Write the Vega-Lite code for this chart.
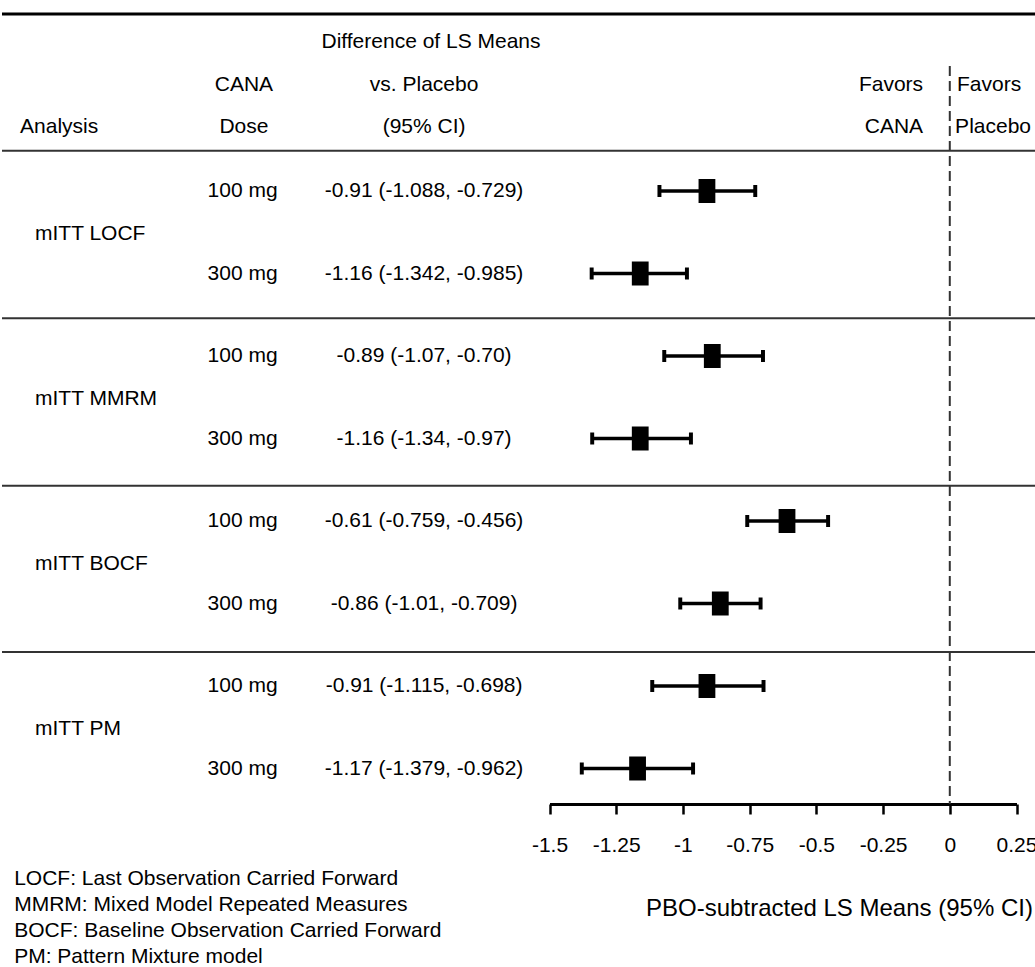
{
  "$schema": "https://vega.github.io/schema/vega-lite/v6.json",
  "width": 1035,
  "height": 804,
  "padding": 0,
  "autosize": {"type": "pad"},
  "background": "white",
  "config": {
    "view": {"stroke": null},
    "font": "Liberation Sans",
    "text": {"font": "Liberation Sans", "fontSize": 21, "color": "black", "baseline": "middle"}
  },
  "data": {
    "values": [
      {"analysis": "mITT LOCF", "dose": "100 mg", "est": -0.91, "lo": -1.088, "hi": -0.729, "ci": "-0.91 (-1.088, -0.729)", "row": 0},
      {"analysis": "mITT LOCF", "dose": "300 mg", "est": -1.16, "lo": -1.342, "hi": -0.985, "ci": "-1.16 (-1.342, -0.985)", "row": 1},
      {"analysis": "mITT MMRM", "dose": "100 mg", "est": -0.89, "lo": -1.07, "hi": -0.70, "ci": "-0.89 (-1.07, -0.70)", "row": 2},
      {"analysis": "mITT MMRM", "dose": "300 mg", "est": -1.16, "lo": -1.34, "hi": -0.97, "ci": "-1.16 (-1.34, -0.97)", "row": 3},
      {"analysis": "mITT BOCF", "dose": "100 mg", "est": -0.61, "lo": -0.759, "hi": -0.456, "ci": "-0.61 (-0.759, -0.456)", "row": 4},
      {"analysis": "mITT BOCF", "dose": "300 mg", "est": -0.86, "lo": -1.01, "hi": -0.709, "ci": "-0.86 (-1.01, -0.709)", "row": 5},
      {"analysis": "mITT PM", "dose": "100 mg", "est": -0.91, "lo": -1.115, "hi": -0.698, "ci": "-0.91 (-1.115, -0.698)", "row": 6},
      {"analysis": "mITT PM", "dose": "300 mg", "est": -1.17, "lo": -1.379, "hi": -0.962, "ci": "-1.17 (-1.379, -0.962)", "row": 7}
    ]
  },
  "layer": [
    {
      "mark": {"type": "rule", "color": "black", "strokeWidth": 3.5},
      "encoding": {
        "x": {"field": "lo", "type": "quantitative",
          "scale": {"domain": [-1.5, 0.25], "range": [547.5, 1014.5], "nice": false, "zero": false},
          "axis": {
            "values": [-1.5, -1.25, -1, -0.75, -0.5, -0.25, 0, 0.25],
            "labelExpr": "'' + datum.value",
            "labelFlush": false,
            "grid": false,
            "domainColor": "black", "domainWidth": 3,
            "tickColor": "black", "tickWidth": 2.5, "tickSize": 10,
            "labelFont": "Liberation Sans", "labelFontSize": 21, "labelColor": "black", "labelPadding": 20,
            "title": "PBO-subtracted LS Means (95% CI)",
            "titleFont": "Liberation Sans", "titleFontSize": 24, "titleFontWeight": "normal", "titleColor": "black",
            "titleX": 837, "titleY": 104, "titleBaseline": "middle", "titleAlign": "center"
          }},
        "x2": {"field": "hi"},
        "y": {"field": "row", "type": "quantitative", "scale": {"domain": [7.4303, -2.3152], "nice": false, "zero": false}, "axis": null}
      }
    },
    {
      "mark": {"type": "point", "shape": "M-0.33,-1L0.33,-1L0.33,1L-0.33,1Z", "filled": true, "color": "black", "opacity": 1, "size": 144},
      "encoding": {
        "x": {"field": "lo", "type": "quantitative"},
        "y": {"field": "row", "type": "quantitative", "axis": null}
      }
    },
    {
      "mark": {"type": "point", "shape": "M-0.33,-1L0.33,-1L0.33,1L-0.33,1Z", "filled": true, "color": "black", "opacity": 1, "size": 144},
      "encoding": {
        "x": {"field": "hi", "type": "quantitative"},
        "y": {"field": "row", "type": "quantitative", "axis": null}
      }
    },
    {
      "mark": {"type": "point", "shape": "M-0.7,-1L0.7,-1L0.7,1L-0.7,1Z", "filled": true, "color": "black", "opacity": 1, "size": 576},
      "encoding": {
        "x": {"field": "est", "type": "quantitative"},
        "y": {"field": "row", "type": "quantitative", "axis": null}
      }
    },
    {
      "mark": {"type": "text", "align": "center"},
      "encoding": {
        "x": {"datum": -2.65, "type": "quantitative"},
        "y": {"field": "row", "type": "quantitative", "axis": null},
        "text": {"field": "dose"}
      }
    },
    {
      "mark": {"type": "text", "align": "center"},
      "encoding": {
        "x": {"datum": -1.97, "type": "quantitative"},
        "y": {"field": "row", "type": "quantitative", "axis": null},
        "text": {"field": "ci"}
      }
    },
    {
      "transform": [{"aggregate": [{"op": "mean", "field": "row", "as": "mid"}], "groupby": ["analysis"]}],
      "mark": {"type": "text", "align": "left", "dy": 2},
      "encoding": {
        "x": {"datum": -3.428, "type": "quantitative"},
        "y": {"field": "mid", "type": "quantitative", "axis": null},
        "text": {"field": "analysis"}
      }
    },
    {
      "data": {"values": [{}]},
      "mark": {"type": "rule", "color": "black", "strokeWidth": 3},
      "encoding": {"y": {"datum": -2.145, "type": "quantitative", "axis": null}}
    },
    {
      "data": {"values": [{}]},
      "mark": {"type": "rule", "color": "#333333", "strokeWidth": 2},
      "encoding": {"y": {"datum": -0.4885, "type": "quantitative", "axis": null}}
    },
    {
      "data": {"values": [{}]},
      "mark": {"type": "rule", "color": "#333333", "strokeWidth": 2},
      "encoding": {"y": {"datum": 1.543, "type": "quantitative", "axis": null}}
    },
    {
      "data": {"values": [{}]},
      "mark": {"type": "rule", "color": "#333333", "strokeWidth": 2},
      "encoding": {"y": {"datum": 3.572, "type": "quantitative", "axis": null}}
    },
    {
      "data": {"values": [{}]},
      "mark": {"type": "rule", "color": "#333333", "strokeWidth": 2},
      "encoding": {"y": {"datum": 5.588, "type": "quantitative", "axis": null}}
    },
    {
      "data": {"values": [{}]},
      "mark": {"type": "rule", "color": "#333333", "strokeWidth": 2, "strokeDash": [10, 5]},
      "encoding": {
        "x": {"datum": 0, "type": "quantitative"},
        "y": {"datum": -1.515, "type": "quantitative", "axis": null},
        "y2": {"datum": 7.4303}
      }
    },
    {
      "data": {"values": [{}]},
      "mark": {"type": "text", "align": "left", "text": "Analysis"},
      "encoding": {"x": {"datum": -3.484, "type": "quantitative"}, "y": {"datum": -0.776, "type": "quantitative", "axis": null}}
    },
    {
      "data": {"values": [{}]},
      "mark": {"type": "text", "align": "center", "text": "CANA"},
      "encoding": {"x": {"datum": -2.645, "type": "quantitative"}, "y": {"datum": -1.285, "type": "quantitative", "axis": null}}
    },
    {
      "data": {"values": [{}]},
      "mark": {"type": "text", "align": "center", "text": "Dose"},
      "encoding": {"x": {"datum": -2.645, "type": "quantitative"}, "y": {"datum": -0.776, "type": "quantitative", "axis": null}}
    },
    {
      "data": {"values": [{}]},
      "mark": {"type": "text", "align": "center", "text": "Difference of LS Means"},
      "encoding": {"x": {"datum": -1.944, "type": "quantitative"}, "y": {"datum": -1.806, "type": "quantitative", "axis": null}}
    },
    {
      "data": {"values": [{}]},
      "mark": {"type": "text", "align": "center", "text": "vs. Placebo"},
      "encoding": {"x": {"datum": -1.97, "type": "quantitative"}, "y": {"datum": -1.285, "type": "quantitative", "axis": null}}
    },
    {
      "data": {"values": [{}]},
      "mark": {"type": "text", "align": "center", "text": "(95% CI)"},
      "encoding": {"x": {"datum": -1.97, "type": "quantitative"}, "y": {"datum": -0.776, "type": "quantitative", "axis": null}}
    },
    {
      "data": {"values": [{}]},
      "mark": {"type": "text", "align": "right", "text": "Favors"},
      "encoding": {"x": {"datum": -0.1, "type": "quantitative"}, "y": {"datum": -1.285, "type": "quantitative", "axis": null}}
    },
    {
      "data": {"values": [{}]},
      "mark": {"type": "text", "align": "right", "text": "CANA"},
      "encoding": {"x": {"datum": -0.1, "type": "quantitative"}, "y": {"datum": -0.776, "type": "quantitative", "axis": null}}
    },
    {
      "data": {"values": [{}]},
      "mark": {"type": "text", "align": "left", "text": "Favors"},
      "encoding": {"x": {"datum": 0.027, "type": "quantitative"}, "y": {"datum": -1.285, "type": "quantitative", "axis": null}}
    },
    {
      "data": {"values": [{}]},
      "mark": {"type": "text", "align": "left", "text": "Placebo"},
      "encoding": {"x": {"datum": 0.02, "type": "quantitative"}, "y": {"datum": -0.776, "type": "quantitative", "axis": null}}
    },
    {
      "data": {"values": [{}]},
      "mark": {"type": "text", "align": "left", "baseline": "middle", "lineHeight": 26,
        "text": ["LOCF: Last Observation Carried Forward", "MMRM: Mixed Model Repeated Measures", "BOCF: Baseline Observation Carried Forward", "PM: Pattern Mixture model"]},
      "encoding": {"x": {"datum": -3.506, "type": "quantitative"}, "y": {"datum": 8.34, "type": "quantitative", "axis": null}}
    }
  ]
}
